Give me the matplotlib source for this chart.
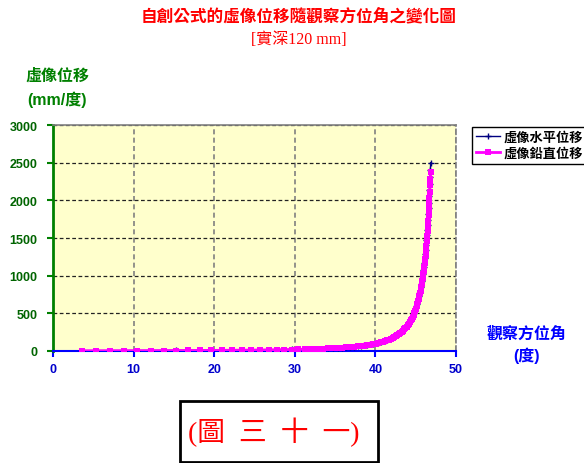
import matplotlib
matplotlib.use('Agg')
import matplotlib.pyplot as plt
from matplotlib.patches import Rectangle

# 字型：拉丁字母用 Liberation，中文用 Noto Sans CJK TC。
plt.rcParams['font.family'] = ['Liberation Sans', 'Noto Sans CJK TC']
SERIF = ['Liberation Serif', 'Noto Sans CJK TC']

TITLE = '自創公式的虛像位移隨觀察方位角之變化圖'
SUBTITLE = '[實深120 mm]'
YLABEL = ['虛像位移', '(mm/度)']
XLABEL = ['觀察方位角', '(度)']
SERIES = ['虛像水平位移', '虛像鉛直位移']
CAPTION = '(圖  三  十  一)'

# 觀察方位角（度）
angle = [
    3.57, 5.34, 7.08, 8.80, 10.48, 12.12, 13.72, 15.27, 16.77, 18.21,
    19.60, 20.93, 22.20, 23.42, 24.59, 25.69, 26.74, 27.74, 28.69, 29.60,
    30.45, 31.26, 32.03, 32.75, 33.44, 34.09, 34.71, 35.30, 35.86, 36.38,
    36.87, 37.34, 37.79, 38.21, 38.61, 39.00, 39.36, 39.70, 40.03, 40.34,
    40.64, 40.92, 41.19, 41.44, 41.69, 41.92, 42.14, 42.35, 42.55, 42.74,
    42.93, 43.10, 43.27, 43.43, 43.59, 43.73, 43.88, 44.01, 44.14, 44.27,
    44.39, 44.51, 44.62, 44.73, 44.83, 44.93, 45.03, 45.12, 45.21, 45.29,
    45.37, 45.45, 45.53, 45.60, 45.68, 45.75, 45.81, 45.88, 45.94, 46.00,
    46.06, 46.12, 46.17, 46.23, 46.28, 46.33, 46.38, 46.42, 46.47, 46.51,
    46.56, 46.60, 46.64, 46.68, 46.71, 46.75, 46.79, 46.82, 46.86,
]

# 虛像水平位移（mm/度）
horizontal = [
    3.7, 4.0, 4.4, 4.8, 5.2, 5.7, 6.2, 6.8, 7.4, 8.2,
    8.9, 9.8, 10.8, 11.9, 13.1, 14.3, 15.8, 17.3, 19.0, 20.8,
    22.9, 25.0, 27.4, 30.0, 32.8, 35.8, 39.0, 42.6, 46.4, 50.5,
    54.7, 59.4, 64.4, 69.8, 75.5, 81.7, 88.2, 95.2, 102.6, 111,
    119, 128, 137, 147, 158, 169, 181, 193, 206, 220,
    234, 250, 266, 282, 300, 319, 338, 359, 380, 403,
    426, 451, 477, 504, 532, 561, 591, 623, 657, 691,
    727, 764, 803, 843, 885, 929, 974, 1021, 1070, 1121,
    1174, 1229, 1286, 1344, 1405, 1468, 1534, 1601, 1669, 1741,
    1815, 1893, 1971, 2052, 2136, 2223, 2312, 2405, 2500,
]

# 虛像鉛直位移（mm/度）
vertical = [
    3.5, 3.8, 4.2, 4.5, 4.9, 5.4, 5.9, 6.4, 7.1, 7.8,
    8.5, 9.3, 10.3, 11.3, 12.4, 13.7, 15.0, 16.5, 18.1, 19.8,
    21.8, 23.8, 26.1, 28.5, 31.2, 34.0, 37.2, 40.5, 44.1, 48.0,
    52.1, 56.5, 61.3, 66.4, 71.9, 77.8, 84.0, 90.6, 97.7, 105,
    113, 122, 131, 140, 150, 161, 172, 184, 196, 209,
    223, 238, 253, 269, 286, 303, 322, 342, 362, 383,
    406, 429, 454, 480, 506, 534, 563, 593, 625, 658,
    692, 727, 764, 803, 843, 884, 927, 972, 1019, 1068,
    1118, 1170, 1224, 1279, 1338, 1397, 1460, 1524, 1589, 1657,
    1728, 1802, 1876, 1954, 2034, 2116, 2201, 2289, 2380,
]

W, H = 584, 464
fig = plt.figure(figsize=(W / 100, H / 100), dpi=100)
fig.patch.set_facecolor('white')
ax = fig.add_axes([53 / W, 112 / H, 403 / W, 226 / H])
ax.set_facecolor('#FFFFCC')

ax.plot(angle, horizontal, color='#000080', lw=1.0, marker='+', ms=4, mew=1.0,
        label=SERIES[0], zorder=3)
ax.plot(angle, vertical, color='#FF00FF', lw=2.0, marker='s', ms=4, mew=0,
        label=SERIES[1], zorder=4)

ax.set_xlim(0, 50)
ax.set_ylim(0, 3000)
ax.set_xticks(range(0, 51, 10))
ax.set_yticks(range(0, 3001, 500))

# 格線：橫線黑色虛線，直線灰色虛線。
ax.yaxis.grid(True, color='#222222', ls=(0, (3, 2)), lw=0.9)
ax.xaxis.grid(True, color='#808080', ls=(0, (3, 2)), lw=1.2)
ax.set_axisbelow(True)

ax.spines['left'].set_color('#008000')
ax.spines['left'].set_linewidth(2)
ax.spines['bottom'].set_color('#0000FF')
ax.spines['bottom'].set_linewidth(1.5)
ax.spines['top'].set_color('#808080')
ax.spines['top'].set_linewidth(1.2)
ax.spines['right'].set_color('#808080')
ax.spines['right'].set_linewidth(1.2)
ax.spines['right'].set_linestyle((0, (3, 2)))

ax.tick_params(axis='y', colors='#008000', labelcolor='#006400', length=4,
               width=1.5, pad=7, labelsize=9)
ax.tick_params(axis='x', colors='#0000FF', labelcolor='#0000CC', length=4,
               width=1.5, pad=5, labelsize=9)
for lab in ax.get_xticklabels() + ax.get_yticklabels():
    lab.set_fontweight('bold')

# 標題
fig.text(299 / W, 1 - 18 / H, TITLE, color='#FF0000', fontsize=12,
         fontweight='bold', ha='center', va='center', family=SERIF)
fig.text(299 / W, 1 - 40 / H, SUBTITLE, color='#FF0000', fontsize=11.5,
         ha='center', va='center', family=SERIF)

# 軸標題
fig.text(57 / W, 1 - 76 / H, YLABEL[0], color='#008000', fontsize=11.5,
         fontweight='bold', ha='center', va='center')
fig.text(57 / W, 1 - 100 / H, YLABEL[1], color='#008000', fontsize=11.5,
         fontweight='bold', ha='center', va='center')
fig.text(527 / W, 1 - 334 / H, XLABEL[0], color='#0000FF', fontsize=11.5,
         fontweight='bold', ha='center', va='center')
fig.text(527 / W, 1 - 356 / H, XLABEL[1], color='#0000FF', fontsize=11.5,
         fontweight='bold', ha='center', va='center')

leg = ax.legend(loc='upper left', bbox_to_anchor=(472 / W, 1 - 128 / H),
                bbox_transform=fig.transFigure, borderaxespad=0, fancybox=False,
                edgecolor='black', framealpha=1, handlelength=1.8,
                handletextpad=0.3, borderpad=0.3, labelspacing=0.25,
                prop={'size': 9.5, 'weight': 'bold'})
leg.get_frame().set_linewidth(1.0)

# 圖號方框
fig.patches.append(Rectangle((180 / W, 1 - 463 / H), 198 / W, 61 / H,
                             transform=fig.transFigure, fill=False,
                             edgecolor='black', lw=2))
fig.text(274 / W, 1 - 432 / H, CAPTION, color='#FF0000', fontsize=20,
         ha='center', va='center', family=SERIF)

fig.savefig('out.png', dpi=100)
